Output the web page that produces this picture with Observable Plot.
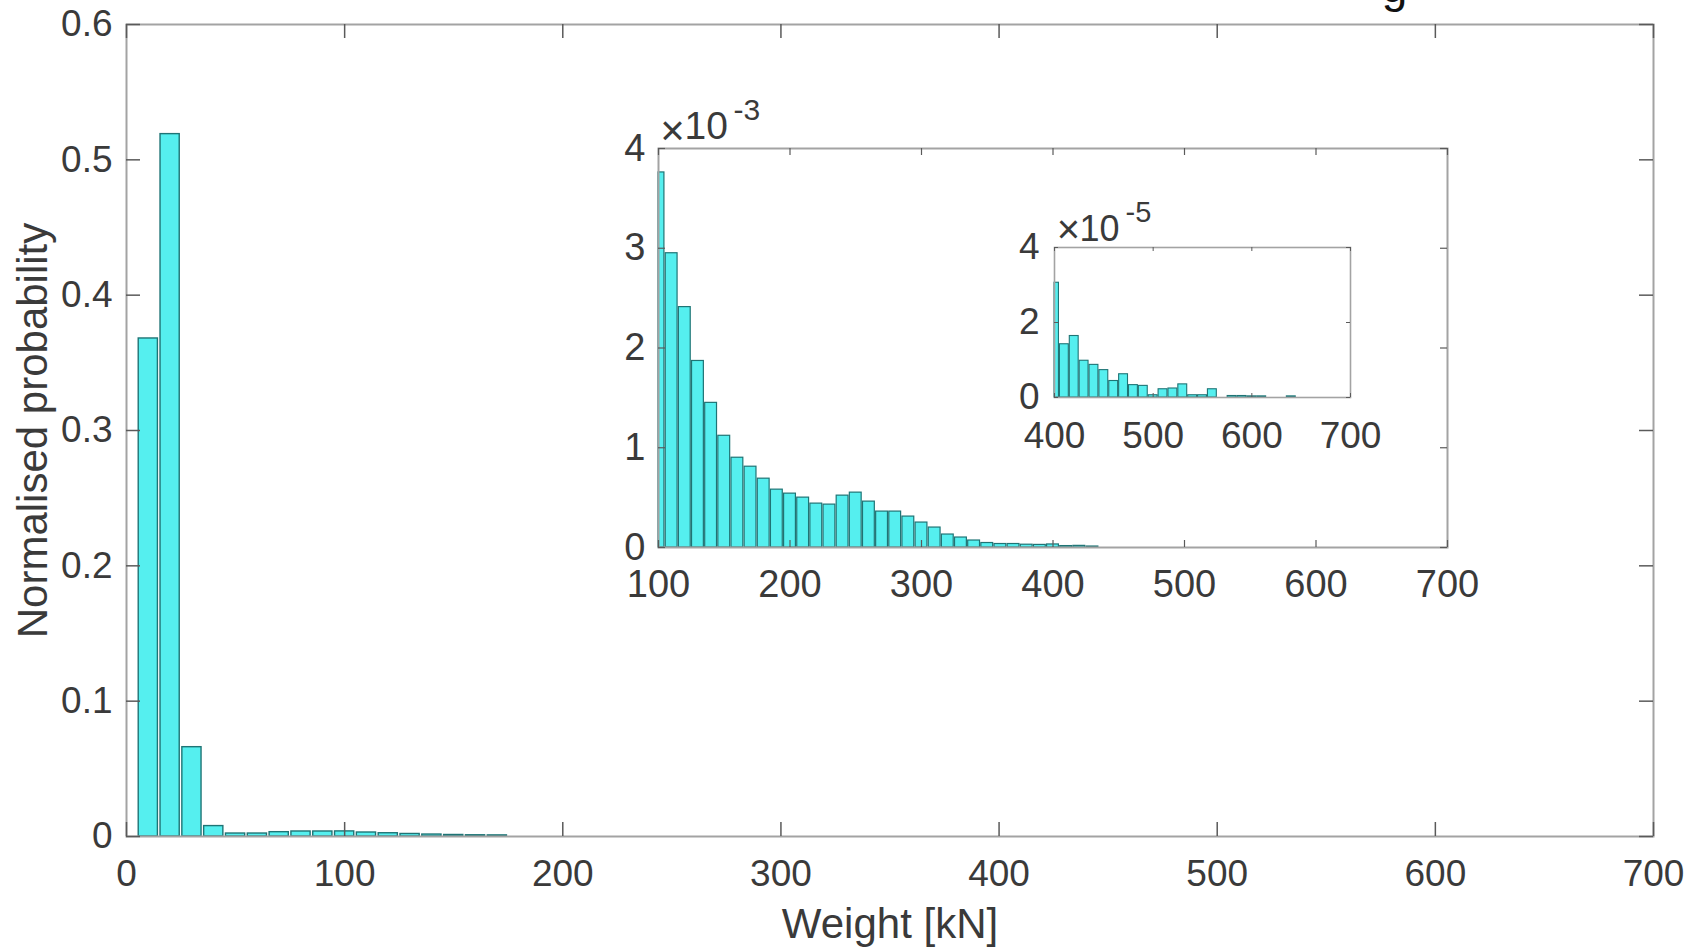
<!DOCTYPE html>
<html>
<head>
<meta charset="utf-8">
<script src="https://cdn.jsdelivr.net/npm/d3@7"></script>
<script src="https://cdn.jsdelivr.net/npm/@observablehq/plot@0.6"></script>
<style>
  html, body { margin: 0; padding: 0; background: #ffffff; }
  #chart { position: relative; width: 1693px; height: 947px; overflow: hidden; background: #ffffff; }
  #chart svg { position: absolute; background: transparent; max-width: none; }
</style>
</head>
<body>
<div id="chart"></div>
<script>
// ---------------- data ----------------
const binWidth = 10; // kN
const binCenters = [
  10, 20, 30, 40, 50, 60, 70, 80, 90,
  100, 110, 120, 130, 140, 150, 160, 170, 180, 190,
  200, 210, 220, 230, 240, 250, 260, 270, 280, 290,
  300, 310, 320, 330, 340, 350, 360, 370, 380, 390,
  400, 410, 420, 430, 440, 450, 460, 470, 480, 490,
  500, 510, 520, 530, 540, 550, 560, 570, 580, 590,
  600, 610, 620, 630, 640
];
const probability = [
  0.368, 0.519, 0.066, 0.0077, 0.0022, 0.0022, 0.0032, 0.0037, 0.0037,
  3.76e-3, 2.95e-3, 2.41e-3, 1.87e-3, 1.45e-3, 1.12e-3, 0.90e-3, 0.81e-3, 0.69e-3, 0.58e-3,
  0.54e-3, 0.50e-3, 0.44e-3, 0.43e-3, 0.52e-3, 0.55e-3, 0.46e-3, 0.36e-3, 0.36e-3, 0.31e-3,
  0.25e-3, 0.20e-3, 0.13e-3, 0.10e-3, 0.07e-3, 0.045e-3, 0.035e-3, 0.035e-3, 0.028e-3, 0.026e-3,
  3.06e-5, 1.42e-5, 1.64e-5, 0.98e-5, 0.87e-5, 0.73e-5, 0.44e-5, 0.62e-5, 0.33e-5, 0.31e-5,
  0.06e-5, 0.22e-5, 0.24e-5, 0.35e-5, 0.06e-5, 0.06e-5, 0.22e-5, 0, 0.04e-5, 0.04e-5,
  0.03e-5, 0.03e-5, 0, 0, 0.03e-5
];

const mainXTicks = [0, 100, 200, 300, 400, 500, 600, 700];
const mainYTicks = [0, 0.1, 0.2, 0.3, 0.4, 0.5, 0.6];
const inset1XTicks = [100, 200, 300, 400, 500, 600, 700];
const inset1YTicks = [0, 0.001, 0.002, 0.003, 0.004];
const inset2XTicks = [400, 500, 600, 700];
const inset2YTicks = [0, 0.00002, 0.00004];

const xLabel = "Weight [kN]";
const yLabel = "Normalised probability";
const inset1Exponent = "-3";
const inset2Exponent = "-5";
const croppedTitleFragment = "g";

// last bin that is still visible in each panel
const mainLastBin = 170;
const inset1LastBin = 430;
const inset2LastBin = 700;

// ---------------- styling ----------------
const FONT = "'Liberation Sans', Arial, Helvetica, sans-serif";
const TEXT = "#3a3a3a";
const FRAME = "#a3a3a3";
const TICK = "#5a5a5a";
const BAR_FILL = "#55efef";
const BAR_STROKE = "#1f7475";

const rows = binCenters.map((c, i) => ({c, p: probability[i]}));

function panel(o) {
  const plotW = o.width - o.ml - o.mr;
  const plotH = o.height - o.mt - o.mb;
  const [x0, x1] = o.xDomain;
  const half = binWidth * o.barFrac / 2;
  const data = rows.filter(d => d.p > 0 && d.c <= o.lastBin && d.c + binWidth / 2 > x0 && d.c - binWidth / 2 < x1);
  const svg = Plot.plot({
    width: o.width,
    height: o.height,
    marginLeft: o.ml, marginRight: o.mr, marginTop: o.mt, marginBottom: o.mb,
    style: {fontFamily: FONT, background: "transparent", color: TEXT, overflow: "hidden"},
    x: {domain: o.xDomain, label: null, axis: null},
    y: {domain: o.yDomain, label: null, axis: null},
    marks: [
      Plot.rectY(data, {
        x1: d => Math.max(d.c - half, x0),
        x2: d => Math.min(d.c + half, x1),
        y: "p",
        fill: BAR_FILL, stroke: BAR_STROKE, strokeWidth: o.barStroke
      }),
      Plot.frame({stroke: FRAME, strokeWidth: o.frameWidth}),
      Plot.tickX(o.xTicks, {insetTop: plotH - o.tickLen, stroke: TICK, strokeWidth: o.tickWidth}),
      Plot.tickX(o.xTicks, {insetBottom: plotH - o.tickLen, stroke: TICK, strokeWidth: o.tickWidth}),
      Plot.tickY(o.yTicks, {insetRight: plotW - o.tickLen, stroke: TICK, strokeWidth: o.tickWidth}),
      Plot.tickY(o.yTicks, {insetLeft: plotW - o.tickLen, stroke: TICK, strokeWidth: o.tickWidth}),
      Plot.axisX(o.xTicks, {anchor: "bottom", tickSize: 0, tickPadding: o.xPad, fontSize: o.fontSize, fill: TEXT, label: null, tickFormat: d => String(d)}),
      Plot.axisY(o.yTicks, {anchor: "left", tickSize: 0, tickPadding: o.yPad, fontSize: o.fontSize, fill: TEXT, label: null, tickFormat: o.fmtY}),
      ...(o.extra || [])
    ]
  });
  svg.style.left = o.left + "px";
  svg.style.top = o.top + "px";
  return svg;
}

function exponentMarks(e, exp) {
  return [
    Plot.text(["×"], {frameAnchor: "top-left", dx: e.timesX, dy: e.timesY, textAnchor: "middle", lineAnchor: "middle", fontSize: e.timesSize, fill: TEXT}),
    Plot.text(["10"], {frameAnchor: "top-left", dx: e.tenX, dy: e.tenY, textAnchor: "start", lineAnchor: "bottom", fontSize: e.tenSize, fill: TEXT}),
    Plot.text([exp], {frameAnchor: "top-left", dx: e.expX, dy: e.expY, textAnchor: "start", lineAnchor: "bottom", fontSize: e.expSize, fill: TEXT})
  ];
}

const chart = document.getElementById("chart");

// ---------------- main panel ----------------
chart.appendChild(panel({
  left: 0, top: 0, width: 1693, height: 947,
  ml: 126, mr: 40, mt: 24, mb: 111,
  xDomain: [0, 700], yDomain: [0, 0.6],
  xTicks: mainXTicks, yTicks: mainYTicks,
  fmtY: d3.format("~g"),
  fontSize: 37, xPad: 23, yPad: 14,
  tickLen: 14, tickWidth: 1.5, frameWidth: 2,
  barFrac: 0.88, barStroke: 1.4,
  lastBin: mainLastBin,
  extra: [
    Plot.text([xLabel], {frameAnchor: "bottom", dy: 101, lineAnchor: "bottom", textAnchor: "middle", fontSize: 42, fill: TEXT}),
    Plot.text([yLabel], {frameAnchor: "left", dx: -80, rotate: -90, lineAnchor: "bottom", textAnchor: "middle", fontSize: 42, fill: TEXT}),
    Plot.text([croppedTitleFragment], {frameAnchor: "top-left", dx: 1268, dy: -23, lineAnchor: "bottom", textAnchor: "middle", fontSize: 46, fill: "#111111"})
  ]
}));

// ---------------- inset 1 ----------------
chart.appendChild(panel({
  left: 560, top: 90, width: 960, height: 540,
  ml: 98, mr: 73, mt: 58, mb: 83,
  xDomain: [100, 700], yDomain: [0, 0.004],
  xTicks: inset1XTicks, yTicks: inset1YTicks,
  fmtY: d => String(Math.round(d * 1e3)),
  fontSize: 38, xPad: 23, yPad: 13,
  tickLen: 7, tickWidth: 1.2, frameWidth: 2,
  barFrac: 0.9, barStroke: 1.2,
  lastBin: inset1LastBin,
  extra: exponentMarks({timesX: 14, timesY: -17, timesSize: 42, tenX: 26, tenY: -10, tenSize: 39, expX: 75, expY: -29, expSize: 30}, inset1Exponent)
}));

// ---------------- inset 2 ----------------
chart.appendChild(panel({
  left: 990, top: 180, width: 400, height: 300,
  ml: 64, mr: 40, mt: 67, mb: 83,
  xDomain: [400, 700], yDomain: [0, 0.00004],
  xTicks: inset2XTicks, yTicks: inset2YTicks,
  fmtY: d => String(Math.round(d * 1e5)),
  fontSize: 37, xPad: 24, yPad: 15,
  tickLen: 4, tickWidth: 1, frameWidth: 1.6,
  barFrac: 0.9, barStroke: 1.1,
  lastBin: inset2LastBin,
  extra: exponentMarks({timesX: 14, timesY: -17, timesSize: 40, tenX: 25, tenY: -7, tenSize: 36, expX: 71, expY: -26, expSize: 29}, inset2Exponent)
}));
</script>
</body>
</html>
